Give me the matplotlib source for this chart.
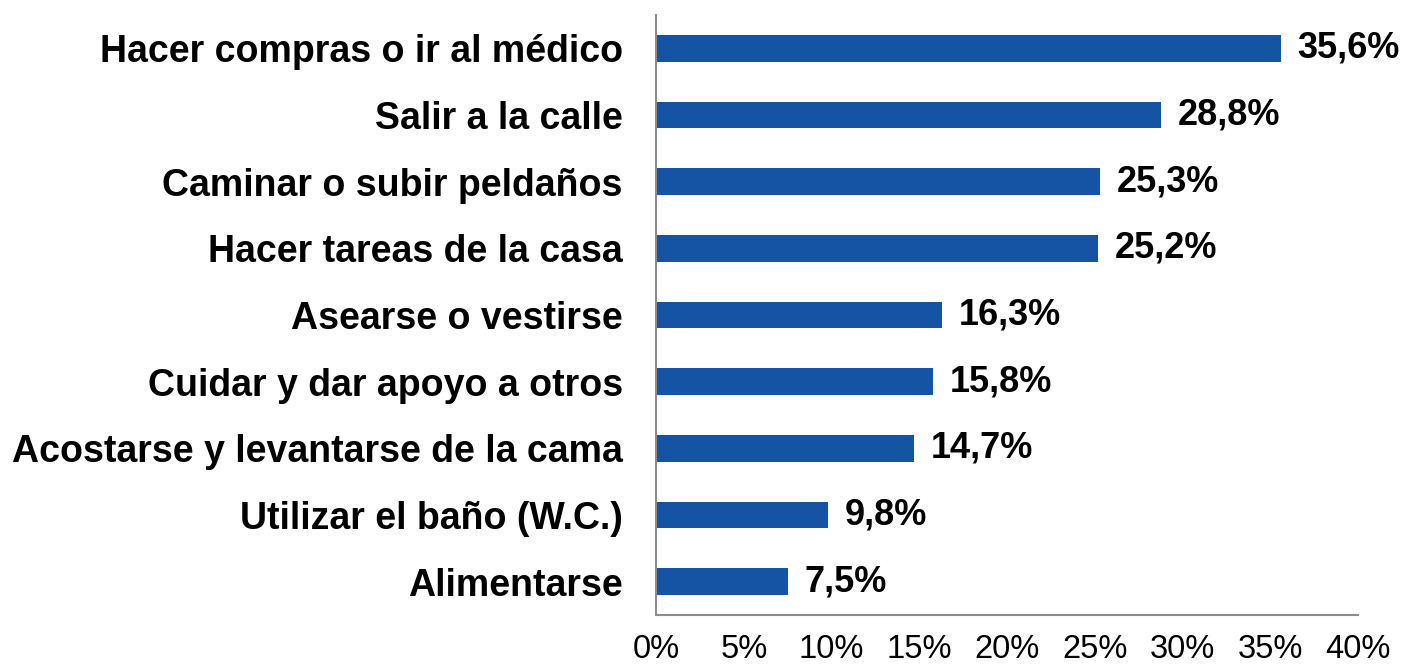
import matplotlib
matplotlib.use("Agg")
from matplotlib import pyplot as plt

categories = ["Hacer compras o ir al médico", "Salir a la calle", "Caminar o subir peldaños",
              "Hacer tareas de la casa", "Asearse o vestirse", "Cuidar y dar apoyo a otros",
              "Acostarse y levantarse de la cama", "Utilizar el baño (W.C.)", "Alimentarse"]
values = [35.6, 28.8, 25.3, 25.2, 16.3, 15.8, 14.7, 9.8, 7.5]
xticks = [0, 5, 10, 15, 20, 25, 30, 35, 40]

plt.rcParams['font.family'] = ['Liberation Sans', 'DejaVu Sans']

fig = plt.figure(figsize=(14.06, 6.67), dpi=100)
ax = fig.add_axes([0.4666, 0.078, 0.4993, 0.8995])

y = list(range(len(categories)))
bars = ax.barh(y, values, height=0.4, color="#1553A5")
ax.bar_label(bars, labels=["{:.1f}%".format(v).replace(".", ",") for v in values],
             padding=12, fontsize=26, fontweight="bold")

ax.set_ylim(len(categories) - 0.5, -0.5)
ax.set_yticks(y)
ax.set_yticklabels(categories, fontsize=27, fontweight="bold")
ax.set_xlim(0, 40)
ax.set_xticks(xticks)
ax.set_xticklabels(["{}%".format(t) for t in xticks], fontsize=23.5)
ax.tick_params(axis="y", length=0, pad=24)
ax.tick_params(axis="x", length=0, pad=14)

for s in ["top", "right"]:
    ax.spines[s].set_visible(False)
for s in ["left", "bottom"]:
    ax.spines[s].set_color("#8c8c8c")
    ax.spines[s].set_linewidth(1.5)

fig.savefig("out.png", dpi=100)
